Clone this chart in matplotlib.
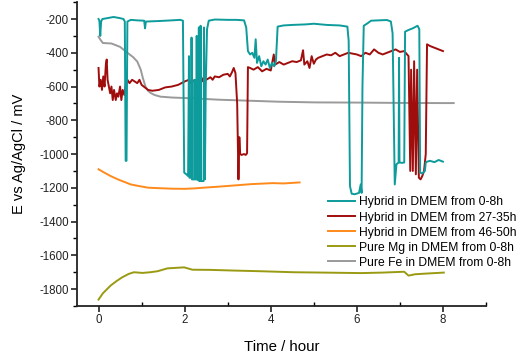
import matplotlib
matplotlib.use("Agg")
import matplotlib.pyplot as plt
from matplotlib.ticker import MultipleLocator

plt.rcParams['font.family'] = ['Liberation Sans', 'DejaVu Sans']
plt.rcParams['axes.unicode_minus'] = False

# ---- data ----
labels = ["Hybrid in DMEM from 0-8h", "Hybrid in DMEM from 27-35h",
          "Hybrid in DMEM from 46-50h", "Pure Mg in DMEM from 0-8h",
          "Pure Fe in DMEM from 0-8h"]

teal_t = [0.00, 0.02, 0.04, 0.06, 0.09, 0.20, 0.35, 0.50, 0.58, 0.61, 0.63, 0.65, 0.67,
          0.75, 0.90, 1.06, 1.08, 1.10, 1.40, 1.70, 1.90, 1.96, 1.99,
          2.04, 2.08, 2.10, 2.11, 2.15, 2.16, 2.17, 2.22, 2.23, 2.24, 2.27, 2.28, 2.29,
          2.32, 2.33, 2.34, 2.36, 2.37, 2.38, 2.44, 2.45, 2.47, 2.49, 2.52, 2.56, 2.70,
          3.00, 3.20, 3.38, 3.43, 3.47, 3.52, 3.57, 3.62, 3.65, 3.68, 3.73, 3.78, 3.83,
          3.88, 3.93, 3.98, 4.03, 4.08, 4.12, 4.16, 4.30, 4.50, 4.80, 5.00, 5.30, 5.60,
          5.78, 5.81, 5.84, 5.88, 5.95, 6.05, 6.09, 6.11, 6.13, 6.16, 6.25, 6.33, 6.50,
          6.70, 6.79, 6.83, 6.88, 6.92, 6.97, 6.98, 6.99, 7.05, 7.10, 7.12, 7.20, 7.30,
          7.41, 7.45, 7.47, 7.52, 7.58, 7.60, 7.63, 7.70, 7.80, 7.90, 8.00]
teal_v = [-200, -210, -300, -215, -200, -195, -188, -195, -200, -215, -1040, -1040, -215,
          -205, -208, -210, -255, -215, -212, -208, -205, -210, -1110,
          -1120, -1130, -420, -1140, -1140, -310, -1150, -1150, -560, -1150, -1150, -300, -1150,
          -1155, -250, -1160, -1160, -240, -1160, -1160, -250, -1150, -600, -260, -210, -203,
          -205, -205, -208, -250, -390, -410, -400, -430, -320, -460, -420, -480, -450,
          -470, -440, -490, -460, -480, -450, -245, -238, -235, -232, -228, -235, -238,
          -245, -330, -1190, -1235, -1238, -1230, -1180, -1230, -600, -240, -225, -210, -208,
          -206, -215, -285, -1180, -1060, -1050, -430, -1050, -1052, -1050, -275, -265, -255,
          -240, -260, -1110, -1115, -1100, -1050, -1045, -1040, -1048, -1035, -1045]

red_t = [0.00, 0.02, 0.05, 0.08, 0.11, 0.14, 0.17, 0.19, 0.21, 0.24, 0.27, 0.30, 0.33,
         0.36, 0.40, 0.43, 0.46, 0.50, 0.53, 0.56, 0.60, 0.63, 0.67, 0.72, 0.78, 0.84,
         0.90, 0.95, 1.00, 1.05, 1.10, 1.15, 1.25, 1.40, 1.55, 1.70, 1.85, 2.00, 2.10,
         2.15, 2.20, 2.30, 2.40, 2.45, 2.50, 2.60, 2.65, 2.70, 2.80, 2.90, 3.00, 3.05,
         3.10, 3.14, 3.18, 3.22, 3.25, 3.27, 3.29, 3.32, 3.38, 3.42, 3.45, 3.47, 3.52,
         3.60, 3.70, 3.80, 3.90, 4.00, 4.07, 4.10, 4.20, 4.30, 4.40, 4.50, 4.60, 4.70,
         4.75, 4.78, 4.85, 4.90, 4.95, 5.00, 5.05, 5.10, 5.20, 5.30, 5.40, 5.50, 5.60,
         5.70, 5.80, 6.00, 6.10, 6.20, 6.30, 6.40, 6.50, 6.60, 6.70, 6.80, 6.90, 7.00,
         7.10, 7.20, 7.24, 7.26, 7.30, 7.33, 7.37, 7.40, 7.44, 7.48, 7.52, 7.56, 7.60,
         7.63, 7.70, 7.80, 7.90, 8.00]
red_v = [-490, -600, -560, -620, -540, -600, -470, -440, -560, -600, -640, -600, -680,
         -620, -680, -640, -660, -600, -680, -620, -650, -590, -560, -580, -560, -570,
         -580, -560, -590, -600, -610, -620, -625, -620, -605, -600, -590, -570, -560,
         -580, -565, -560, -570, -540, -560, -545, -560, -540, -545, -530, -525, -540,
         -515, -490, -520, -700, -1150, -900, -1000, -1005, -1000, -1005, -995, -485, -490,
         -500, -485, -510, -495, -505, -410, -470, -455, -470, -460, -450, -455, -445,
         -385, -470, -450, -490, -420, -465, -440, -430, -420, -410, -415, -400, -420,
         -410, -400, -410, -420, -400, -410, -380, -400, -410, -400, -390, -380, -395,
         -390, -420, -1100, -500, -1100, -450, -1120, -500, -1140, -1150, -1130, -1100, -1000,
         -350, -360, -370, -380, -390]

orange_t = [0.00, 0.10, 0.28, 0.45, 0.55, 0.75, 0.95, 1.15, 1.40, 1.70, 2.00, 2.24, 2.50,
            2.79, 3.05, 3.30, 3.55, 3.80, 4.05, 4.30, 4.54, 4.67]
orange_v = [-1090, -1105, -1130, -1150, -1160, -1180, -1190, -1199, -1202, -1205, -1206,
            -1203, -1198, -1193, -1188, -1183, -1178, -1175, -1172, -1174, -1170, -1168]

olive_t = [0.00, 0.10, 0.28, 0.42, 0.55, 0.70, 0.82, 1.02, 1.20, 1.37, 1.60, 1.80, 1.99,
           2.18, 2.60, 3.14, 3.76, 4.54, 5.20, 6.10, 6.60, 7.10, 7.20, 7.35, 7.60, 8.02]
olive_v = [-1862, -1825, -1779, -1752, -1730, -1710, -1700, -1704, -1700, -1694, -1677,
           -1674, -1671, -1685, -1686, -1690, -1694, -1700, -1702, -1705, -1702, -1697,
           -1720, -1712, -1708, -1702]

grey_t = [0.00, 0.05, 0.10, 0.30, 0.50, 0.67, 0.80, 0.90, 0.98, 1.03, 1.09, 1.15, 1.21,
          1.30, 1.44, 1.70, 2.20, 2.80, 3.50, 4.20, 5.05, 6.00, 7.00, 8.00, 8.25]
grey_v = [-305, -325, -342, -345, -365, -400, -425, -452, -500, -550, -600, -625, -638,
          -650, -660, -665, -670, -678, -684, -690, -694, -695, -697, -698, -698]

x_ticks = [0, 2, 4, 6, 8]
y_ticks = [-200, -400, -600, -800, -1000, -1200, -1400, -1600, -1800]

colors = ["#0e9b9b", "#a00d0d", "#ff8a1c", "#9a9a12", "#9a9a9a"]

fig = plt.figure(figsize=(5.26, 3.55), dpi=100)
ax = fig.add_axes([0.1464, 0.138, 0.7776, 0.856])

series = [(teal_t, teal_v), (red_t, red_v), (orange_t, orange_v),
          (olive_t, olive_v), (grey_t, grey_v)]
lines = {}
for i in [4, 3, 2, 1, 0]:
    t, v = series[i]
    ln, = ax.plot(t, v, color=colors[i], lw=1.4, label=labels[i])
    lines[i] = ln

ax.set_xlim(-0.5, 9)
ax.set_ylim(-1900, -100)
ax.set_xticks(x_ticks)
ax.set_yticks(y_ticks)
ax.xaxis.set_minor_locator(MultipleLocator(1))
ax.yaxis.set_minor_locator(MultipleLocator(100))

for s in ["top", "right"]:
    ax.spines[s].set_visible(False)
for s in ["left", "bottom"]:
    ax.spines[s].set_linewidth(1.3)
    ax.spines[s].set_color("#222222")

ax.tick_params(axis="both", which="major", direction="out", length=4, width=1.2,
               labelsize=8.3, colors="#222222", pad=2)
ax.tick_params(axis="x", which="minor", direction="in", length=3, width=1.0)
ax.tick_params(axis="y", which="minor", direction="out", length=3, width=1.0)

ax.set_xlabel("Time / hour", fontsize=10.8, labelpad=10)
ax.set_ylabel("E vs Ag/AgCl / mV", fontsize=10.5, labelpad=9.5)

handles = [lines[i] for i in range(5)]
fig.legend(handles, labels, loc="center", bbox_to_anchor=(0.803, 0.345),
           frameon=False, fontsize=8.7, handlelength=2.2, handletextpad=0.35,
           labelspacing=0.25, borderpad=0.2)

fig.savefig("out.png", dpi=100)
